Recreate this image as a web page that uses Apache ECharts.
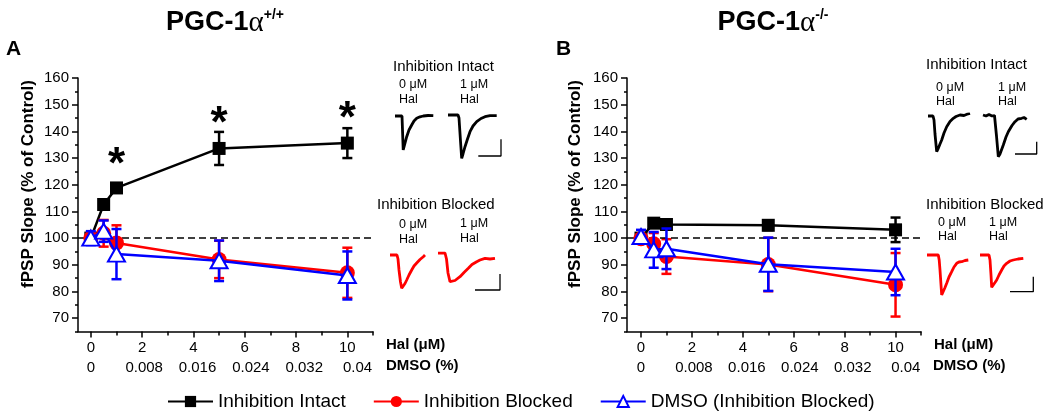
<!DOCTYPE html>
<html><head><meta charset="utf-8">
<script src="https://cdn.jsdelivr.net/npm/echarts@6/dist/echarts.min.js"></script>
<style>html,body{margin:0;padding:0;background:#fff}#c{width:1050px;height:415px}</style>
</head><body><div id="c"></div>
<script>
// ---------- data ----------
const halConc = [0, 0.5, 1, 5, 10];
// Panel A : PGC-1α +/+
const wtIntact = [100, 112.6, 118.8, 133.6, 135.6];
const wtIntactErr = [1, 1.5, 1.5, 6.2, 5.6];
const wtBlocked = [100, 101.8, 98.2, 92, 87];
const wtBlockedErr = [2, 5, 6.6, 7, 9.4];
const wtDmso = [100, 102.6, 94, 91.5, 86];
const wtDmsoErr = [2.6, 4, 9.4, 7.6, 9];
const wtSig = [[1, 131], [5, 146], [10, 148]];
// Panel B : PGC-1α -/-
const koIntact = [100, 105.6, 105.1, 104.8, 103.1];
const koIntactErr = [1, 1.5, 1.2, 1.8, 4.6];
const koBlocked = [99.8, 97.9, 93.1, 90.1, 82.5];
const koBlockedErr = [1.5, 4, 6.5, 10, 11.9];
const koDmso = [100.6, 95.6, 96, 90.2, 87.3];
const koDmsoErr = [2.5, 6.7, 7.6, 10, 8.7];

const yTicks = [70, 80, 90, 100, 110, 120, 130, 140, 150, 160];
const yMinor = [65, 75, 85, 95, 105, 115, 125, 135, 145, 155];
const halTicks = [0, 2, 4, 6, 8, 10];
const halMinor = [1, 3, 5, 7, 9, 11];
const dmsoTicks = [0, 0.008, 0.016, 0.024, 0.032, 0.04];

// example traces (time, amplitude a.u.)
const trA_int0 = [[2,0],[9,0],[9.5,-14],[10.2,-34],[11,-31],[13.7,-20.7],[16,-14],[18.7,-9],[21,-5],[23.7,-2.3],[27,-0.8],[30.3,0],[35,0.5],[40.3,0.3]];
const trA_int1 = [[55,1],[65,1],[66,-2],[67.5,-25],[68.7,-42.3],[70,-38],[72,-30.7],[74.5,-23],[77,-15.7],[80,-10],[83.7,-5.7],[88,-2.5],[92,-0.7],[97,0.3],[103.7,0.3]];
const trA_scale = [[85.3,-40],[108,-40],[108,-23.3]];
const trA_blk0 = [[0,0],[7,0],[8,-4],[9,-15],[10.5,-27],[11.7,-33.3],[13,-32],[15,-28.5],[16.7,-25],[19,-20],[21.7,-15],[24,-11],[26.7,-8],[30,-4.5],[33.3,-1.7],[35,0]];
const trA_blk1 = [[48,2],[55,2],[56.5,-4],[58,-18],[60,-26.7],[61.7,-27.7],[65,-25.5],[70,-21.7],[74,-17.5],[78.3,-13.3],[82,-9.5],[86.7,-6.7],[90,-5],[95,-3.3],[100,-4],[105,-3.3]];
const trA_scaleB = [[85,-35],[110,-35],[110,-19]];
const trB_int0 = [[0,0],[5,0],[6,-4],[7,-18],[8.7,-35.7],[10,-33],[12,-28],[13.7,-24],[16,-17],[18.7,-10.7],[22,-5.5],[25.3,-2.3],[28,-0.5],[32,1],[36,0.5],[39,1.8],[42,2.7]];
const trB_int1 = [[55,1],[58,0],[61,1.5],[64,0],[66.5,0.5],[68.5,-20],[70.3,-40.7],[72,-38],[75.3,-29],[78,-21],[80.3,-15.7],[84,-9.5],[87,-5.7],[90,-3],[93.7,-2.3],[96,-1.5],[98.7,-3.3]];
const trB_scale = [[87,-38],[108.7,-38],[108.7,-25.7]];
const trB_blk0 = [[0,0],[11.3,0],[12.2,-5],[13,-15],[14.7,-40],[16,-38],[17.8,-33],[19.7,-28.3],[22,-22],[24.7,-16.7],[27,-12],[29.7,-8.3],[32,-7],[34.7,-6.7],[38,-5.5],[41.3,-5]];
const trB_blk1 = [[53,0],[62,0],[63,-5],[64,-20],[64.7,-32.3],[66,-31],[68,-27.5],[69.7,-25],[72,-20],[74.7,-15],[77,-11],[79.7,-8.3],[83,-6],[86.3,-5],[91,-4],[96.3,-3.3]];
const trB_scaleB = [[83,-36.7],[106.3,-36.7],[106.3,-21.7]];

// ---------- styling ----------
const font = 'Liberation Sans, Arial, sans-serif';
const BLACK = '#000000', RED = '#ff0000', BLUE = '#0000ff';
const DMSO_SCALE = 1 / 260; // DMSO-axis units per Hal-axis unit (label placement as in figure)

const panels = [
  { grid: { left: 78, top: 78, width: 295, height: 253.5 }, xmin: -0.5,
    groups: [[wtIntact, wtIntactErr], [wtBlocked, wtBlockedErr], [wtDmso, wtDmsoErr]], sig: wtSig },
  { grid: { left: 627, top: 78, width: 294, height: 253.5 }, xmin: -0.55,
    groups: [[koIntact, koIntactErr], [koBlocked, koBlockedErr], [koDmso, koDmsoErr]], sig: null }
];
const groupStyle = [
  { name: 'Inhibition Intact', color: BLACK, symbol: 'rect', size: 13, fill: BLACK, bw: 0 },
  { name: 'Inhibition Blocked', color: RED, symbol: 'circle', size: 15, fill: RED, bw: 0 },
  { name: 'DMSO (Inhibition Blocked)', color: BLUE, symbol: 'triangle', size: [17, 15], fill: '#ffffff', bw: 2 }
];

const axisLineStyle = { color: '#000', width: 1.5 };
const grids = [], xAxes = [], yAxes = [], series = [];

function errRender(color) {
  return function (params, api) {
    const x = api.value(0), lo = api.value(1), hi = api.value(2);
    const a = api.coord([x, lo]), b = api.coord([x, hi]);
    const hw = 5;
    const st = { stroke: color, lineWidth: 2.5, fill: null };
    return { type: 'group', children: [
      { type: 'line', shape: { x1: a[0], y1: a[1], x2: b[0], y2: b[1] }, style: st },
      { type: 'line', shape: { x1: a[0] - hw, y1: a[1], x2: a[0] + hw, y2: a[1] }, style: st },
      { type: 'line', shape: { x1: b[0] - hw, y1: b[1], x2: b[0] + hw, y2: b[1] }, style: st }
    ] };
  };
}

panels.forEach((p, pi) => {
  grids.push(p.grid);
  const xi = xAxes.length, yi = yAxes.length;
  xAxes.push({ type: 'value', gridIndex: pi, min: p.xmin, max: 11, position: 'bottom',
    axisLine: { show: true, onZero: false, lineStyle: axisLineStyle },
    axisTick: { show: true, customValues: halTicks, length: 6, lineStyle: axisLineStyle },
    axisLabel: { customValues: halTicks, margin: 9, fontSize: 15, color: '#000', fontFamily: font },
    splitLine: { show: false } });
  xAxes.push({ type: 'value', gridIndex: pi, min: p.xmin, max: 11, position: 'bottom',
    axisLine: { show: false, onZero: false }, axisLabel: { show: false }, splitLine: { show: false },
    axisTick: { show: true, customValues: halMinor, length: 4, lineStyle: axisLineStyle } });
  xAxes.push({ type: 'value', gridIndex: pi, min: p.xmin * DMSO_SCALE, max: 11 * DMSO_SCALE, position: 'bottom',
    axisLine: { show: false, onZero: false }, axisTick: { show: false }, splitLine: { show: false },
    axisLabel: { customValues: dmsoTicks, margin: 29, fontSize: 15, color: '#000', fontFamily: font,
      formatter: v => String(+(+v).toFixed(3)) } });
  yAxes.push({ type: 'value', gridIndex: pi, min: 65, max: 160, position: 'left',
    axisLine: { show: true, onZero: false, lineStyle: axisLineStyle },
    axisTick: { show: true, customValues: yTicks, length: 6, lineStyle: axisLineStyle },
    axisLabel: { customValues: yTicks, margin: 9, fontSize: 15, color: '#000', fontFamily: font },
    splitLine: { show: false } });
  yAxes.push({ type: 'value', gridIndex: pi, min: 65, max: 160, position: 'left',
    axisLine: { show: false, onZero: false }, axisLabel: { show: false }, splitLine: { show: false },
    axisTick: { show: true, customValues: yMinor, length: 3, lineStyle: axisLineStyle } });

  p.groups.forEach(([vals, err], gi) => {
    const gs = groupStyle[gi];
    series.push({ type: 'custom', xAxisIndex: xi, yAxisIndex: yi, z: 2 + gi * 2, silent: true,
      renderItem: errRender(gs.color), encode: { x: 0, y: [1, 2] },
      data: halConc.map((x, i) => [x, vals[i] - err[i], vals[i] + err[i]]) });
    const s = { type: 'line', name: gs.name, xAxisIndex: xi, yAxisIndex: yi, z: 3 + gi * 2,
      symbol: gs.symbol, symbolSize: gs.size, showSymbol: true,
      lineStyle: { color: gs.color, width: 2.5 },
      itemStyle: { color: gs.fill, borderColor: gs.color, borderWidth: gs.bw },
      data: halConc.map((x, i) => [x, vals[i]]) };
    if (gi === 0) {
      s.markLine = { silent: true, symbol: 'none', label: { show: false },
        lineStyle: { type: [7, 4], color: '#000', width: 1.5 }, data: [{ yAxis: 100 }] };
    }
    series.push(s);
  });
  if (p.sig) {
    series.push({ type: 'scatter', xAxisIndex: xi, yAxisIndex: yi, z: 10, silent: true,
      symbolSize: 1, itemStyle: { color: '#000', opacity: 1 }, data: p.sig,
      label: { show: true, formatter: '*', position: 'inside', fontSize: 44, fontWeight: 900,
        color: '#000', opacity: 1, textBorderWidth: 0, fontFamily: font, offset: [0, 10] } });
  }
});

// trace insets
const insets = [
  { origin: [393, 116], traces: [trA_int0, trA_int1], color: BLACK, scale: trA_scale },
  { origin: [390, 255], traces: [trA_blk0, trA_blk1], color: RED, scale: trA_scaleB },
  { origin: [928, 116], traces: [trB_int0, trB_int1], color: BLACK, scale: trB_scale },
  { origin: [927, 255], traces: [trB_blk0, trB_blk1], color: RED, scale: trB_scaleB }
];
insets.forEach(ins => {
  const gi = grids.length;
  grids.push({ left: ins.origin[0], top: ins.origin[1] - 2, width: 112, height: 50 });
  const xi = xAxes.length, yi = yAxes.length;
  xAxes.push({ type: 'value', gridIndex: gi, min: 0, max: 112, show: false });
  yAxes.push({ type: 'value', gridIndex: gi, min: -48, max: 2, show: false });
  ins.traces.forEach(t => series.push({ type: 'line', xAxisIndex: xi, yAxisIndex: yi, silent: true,
    symbol: 'none', data: t, lineStyle: { color: ins.color, width: 2.8 } }));
  series.push({ type: 'line', xAxisIndex: xi, yAxisIndex: yi, silent: true, symbol: 'none',
    data: ins.scale, lineStyle: { color: '#000', width: 1.3 } });
});

function txt(x, y, text, size, bold, align, extra) {
  return Object.assign({ type: 'text', x: x, y: y, silent: true, style: {
    text: text, fontSize: size, fontWeight: bold ? 'bold' : 'normal', fontFamily: font, fill: '#000',
    textAlign: align || 'left', align: align || 'left', textVerticalAlign: 'middle', verticalAlign: 'middle' } }, extra || {});
}
function title(x, sup) {
  return { type: 'text', x: x, y: 23, silent: true, style: {
    text: '{m|PGC-1}{g|α}{s|' + sup + '}', textAlign: 'center', align: 'center',
    textVerticalAlign: 'middle', verticalAlign: 'middle',
    rich: {
      m: { fontSize: 27, fontWeight: 'bold', fontFamily: font, fill: '#000', color: '#000' },
      g: { fontSize: 29, fontFamily: 'Liberation Serif, serif', fill: '#000', color: '#000' },
      s: { fontSize: 14, fontWeight: 'bold', fontFamily: font, fill: '#000', color: '#000', verticalAlign: 'top' }
    } } };
}
const graphics = [
  title(225, '+/+'), title(773, '-/-'),
  txt(6, 49, 'A', 21, true), txt(556, 49, 'B', 21, true),
  txt(28, 184, 'fPSP Slope (% of Control)', 17, true, 'center', { rotation: Math.PI / 2 }),
  txt(575, 184, 'fPSP Slope (% of Control)', 17, true, 'center', { rotation: Math.PI / 2 }),
  txt(386, 345, 'Hal (μM)', 15, true), txt(386, 366, 'DMSO (%)', 15, true),
  txt(934, 345, 'Hal (μM)', 15, true), txt(933, 366, 'DMSO (%)', 15, true),
  // inset labels A
  txt(393, 67, 'Inhibition Intact', 15, false),
  txt(399, 85, '0 μM', 12.5, false), txt(399, 100, 'Hal', 12.5, false),
  txt(460, 85, '1 μM', 12.5, false), txt(460, 100, 'Hal', 12.5, false),
  txt(377, 205, 'Inhibition Blocked', 15, false),
  txt(399, 225, '0 μM', 12.5, false), txt(399, 240, 'Hal', 12.5, false),
  txt(460, 224, '1 μM', 12.5, false), txt(460, 239, 'Hal', 12.5, false),
  // inset labels B
  txt(926, 65, 'Inhibition Intact', 15, false),
  txt(936, 88, '0 μM', 12.5, false), txt(936, 102, 'Hal', 12.5, false),
  txt(998, 88, '1 μM', 12.5, false), txt(998, 102, 'Hal', 12.5, false),
  txt(926, 205, 'Inhibition Blocked', 15, false),
  txt(938, 223, '0 μM', 12.5, false), txt(938, 237, 'Hal', 12.5, false),
  txt(989, 223, '1 μM', 12.5, false), txt(989, 237, 'Hal', 12.5, false)
];

const chart = echarts.init(document.getElementById('c'), null, { renderer: 'canvas', width: 1050, height: 415 });
chart.setOption({
  animation: false,
  backgroundColor: '#ffffff',
  textStyle: { fontFamily: font },
  grid: grids, xAxis: xAxes, yAxis: yAxes, series: series,
  legend: { data: groupStyle.map(g => g.name), left: 167, top: 392, padding: 0, itemWidth: 45, itemHeight: 14, itemGap: 27,
    selectedMode: false, textStyle: { fontSize: 19, color: '#000', fontFamily: font } },
  graphic: graphics
});
</script></body></html>
